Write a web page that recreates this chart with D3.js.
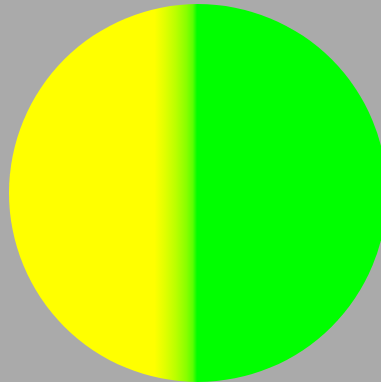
<!DOCTYPE html>
<html>
<head>
<meta charset="utf-8">
<script src="https://cdn.jsdelivr.net/npm/d3@7"></script>
<style>
  body { margin: 0; background: #aaaaaa; }
</style>
</head>
<body>
<svg width="381" height="382"></svg>
<script>
// colour stops across the yellow -> green blend (0 = start of blend, 1 = end)
var stopOffsets = [0, 0.25, 0.5, 0.75, 0.9, 1];
var stopColors = ["#ffff00", "#e0ff00", "#baff00", "#88ff00", "#5aff00", "#00ff00"];
// where the blend sits, as a share of the radius measured from center
var blendRange = [-0.23, -0.005];

var svg = d3.select("svg"),
    width = +svg.attr("width"),
    height = +svg.attr("height");

var cx = 198, cy = 193, r = 189;

svg.append("rect")
    .attr("width", width)
    .attr("height", height)
    .attr("fill", "#aaaaaa");

var x = d3.scaleLinear().domain([-1, 1]).range([cx - r, cx + r]);

var grad = svg.append("defs").append("linearGradient")
    .attr("id", "split")
    .attr("gradientUnits", "userSpaceOnUse")
    .attr("x1", x(blendRange[0])).attr("y1", 0)
    .attr("x2", x(blendRange[1])).attr("y2", 0);

grad.selectAll("stop")
    .data(stopColors)
    .enter().append("stop")
    .attr("offset", function(d, i) { return stopOffsets[i]; })
    .attr("stop-color", function(d) { return d; });

svg.append("circle")
    .attr("cx", cx)
    .attr("cy", cy)
    .attr("r", r)
    .attr("fill", "url(#split)");
</script>
</body>
</html>
